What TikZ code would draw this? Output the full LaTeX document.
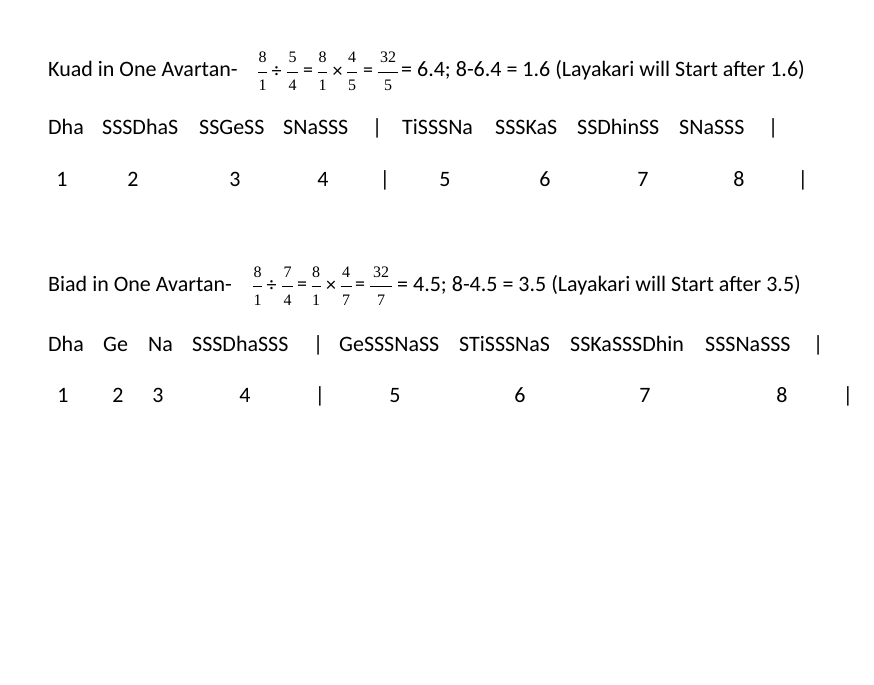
\documentclass[tikz,border=0pt]{standalone}
\usepackage{fontspec}
\setmainfont{Carlito}
\newfontfamily\fracfont{Liberation Serif}
\begin{document}
\begin{tikzpicture}[x=1bp,y=-1bp,
  txt/.style={inner sep=0pt, anchor=base west, font=\fontsize{22bp}{26bp}\selectfont},
  num/.style={inner sep=0pt, anchor=base, font=\fontsize{22bp}{26bp}\selectfont},
  fd/.style={inner sep=0pt, anchor=base, font=\fracfont\fontsize{16bp}{18bp}\selectfont},
  op/.style={inner sep=0pt, anchor=center, font=\fontsize{20bp}{22bp}\selectfont},
  fbar/.style={line width=0.9bp, black}]
\useasboundingbox[fill=white] (0,0) rectangle (874,685);
\newcommand\fr[6]{%
  \node[fd] (#1n) at ({#2},{#3-9}) {#4};
  \node[fd] (#1d) at ({#2},{#3+19}) {#5};
  \draw[fbar] ({#2-#6},{#3}) -- ({#2+#6},{#3});}
% ---------- Kuad ----------
\node[txt] (kt) at (48,77) {Kuad in One Avartan-};
\fr{ka}{262.5}{72}{8}{1}{4.5}
\node[op] (ko1) at (276.5,72) {÷};
\fr{kb}{292.5}{72}{5}{4}{5.5}
\node[op] (ko2) at (308,72) {=};
\fr{kc}{322.5}{72}{8}{1}{4.5}
\node[op] (ko3) at (337.5,72) {×};
\fr{kd}{352}{72}{4}{5}{5}
\node[op] (ko4) at (368,72) {=};
\fr{ke}{388}{72}{32}{5}{10}
\node[txt] (kr) at (401,77) {= 6.4; 8-6.4 = 1.6 (Layakari will Start after 1.6)};
% row of bols
\node[txt] (k1) at (48,135) {Dha};
\node[txt] (k2) at (102,135) {SSSDhaS};
\node[txt] (k3) at (199,135) {SSGeSS};
\node[txt] (k4) at (283,135) {SNaSSS};
\node[txt] (k5) at (372,135) {|};
\node[txt] (k6) at (402,135) {TiSSSNa};
\node[txt] (k7) at (495,135) {SSSKaS};
\node[txt] (k8) at (577,135) {SSDhinSS};
\node[txt] (k9) at (679,135) {SNaSSS};
\node[txt] (k10) at (768,135) {|};
% numbers
\node[num] (kn1) at (62,186) {1};
\node[num] (kn2) at (133,186) {2};
\node[num] (kn3) at (235,186) {3};
\node[num] (kn4) at (323,186) {4};
\node[num] (kn5) at (385,186) {|};
\node[num] (kn6) at (445,186) {5};
\node[num] (kn7) at (545,186) {6};
\node[num] (kn8) at (643,186) {7};
\node[num] (kn9) at (739,186) {8};
\node[num] (kn10) at (803,186) {|};
% ---------- Biad ----------
\node[txt] (bt) at (48,291) {Biad in One Avartan-};
\fr{ba}{257.5}{286}{8}{1}{4.5}
\node[op] (bo1) at (271.5,286) {÷};
\fr{bb}{287.5}{286}{7}{4}{5.5}
\node[op] (bo2) at (302,286) {=};
\fr{bc}{316}{286}{8}{1}{4.5}
\node[op] (bo3) at (331,286) {×};
\fr{bd}{346}{286}{4}{7}{5.5}
\node[op] (bo4) at (360,286) {=};
\fr{be}{381}{286}{32}{7}{11}
\node[txt] (br) at (397,291) {= 4.5; 8-4.5 = 3.5 (Layakari will Start after 3.5)};
% row of bols
\node[txt] (b1) at (48,351) {Dha};
\node[txt] (b2) at (103,351) {Ge};
\node[txt] (b3) at (148,351) {Na};
\node[txt] (b4) at (192,351) {SSSDhaSSS};
\node[txt] (b5) at (313,351) {|};
\node[txt] (b6) at (339,351) {GeSSSNaSS};
\node[txt] (b7) at (459,351) {STiSSSNaS};
\node[txt] (b8) at (570,351) {SSKaSSSDhin};
\node[txt] (b9) at (705,351) {SSSNaSSS};
\node[txt] (b10) at (813,351) {|};
% numbers
\node[num] (bn1) at (63,402) {1};
\node[num] (bn2) at (118,402) {2};
\node[num] (bn3) at (158,402) {3};
\node[num] (bn4) at (245,402) {4};
\node[num] (bn5) at (320,402) {|};
\node[num] (bn6) at (395,402) {5};
\node[num] (bn7) at (520,402) {6};
\node[num] (bn8) at (645,402) {7};
\node[num] (bn9) at (782,402) {8};
\node[num] (bn10) at (848,402) {|};
\end{tikzpicture}
\end{document}
